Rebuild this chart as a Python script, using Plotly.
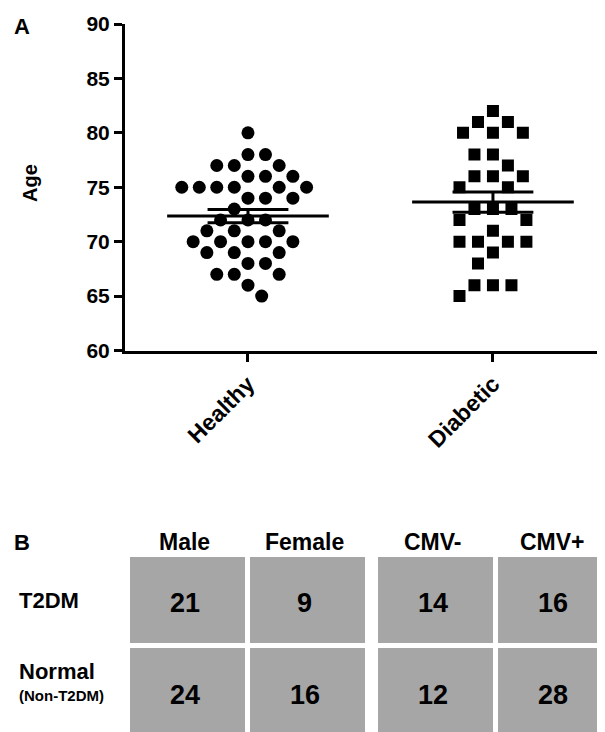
import numpy as np
import plotly.graph_objects as go

# ---------------- data ----------------
groups = ["Healthy", "Diabetic"]
healthy_ages = [80, 78, 78, 77, 77, 77, 76, 76, 76,
                75, 75, 75, 75, 75, 75, 74, 74, 74, 73,
                72, 72, 72, 71, 71, 71, 70, 70, 70, 70, 70,
                69, 69, 69, 68, 68, 67, 67, 67, 66, 65]
diabetic_ages = [82, 81, 81, 80, 80, 80, 78, 78, 77, 76, 76, 76,
                 75, 75, 73, 73, 73, 72, 72, 71, 70, 70, 70, 70,
                 69, 68, 66, 66, 66, 65]
y_ticks = [60, 65, 70, 75, 80, 85, 90]

row_labels = ["T2DM", "Normal"]
row_sublabels = ["", "(Non-T2DM)"]
col_labels = ["Male", "Female", "CMV-", "CMV+"]
counts = [[21, 9, 14, 16],
          [24, 16, 12, 28]]

# ---------------- layout constants ----------------
OFF = 8                      # page body margin
W, H = 605 - OFF, 732 - OFF  # figure size
PLOT_L, PLOT_R, PLOT_T, PLOT_B = 125, 600, 24, 350.5   # screen px
X_RANGE = [-0.502, 1.437]
Y_RANGE = [60, 90]
PX_PER_X = (PLOT_R - PLOT_L) / (X_RANGE[1] - X_RANGE[0])
PX_PER_Y = (PLOT_B - PLOT_T) / (Y_RANGE[1] - Y_RANGE[0])
FONT = "Liberation Sans, Arial, Helvetica, sans-serif"


def px(x):
    return (x - OFF) / W


def py(y):
    return 1 - (y - OFF) / H


def swarm(values, d):
    """Greedy beeswarm: horizontal offsets (data units) so markers don't collide."""
    placed = []
    offsets = []
    side = 1
    for v in values:
        y = v * PX_PER_Y
        forb = []
        for xp, yp in placed:
            dy = abs(y - yp)
            if dy < d:
                w = (d * d - dy * dy) ** 0.5
                forb.append((xp - w, xp + w))
        cands = [0.0] + [a for a, b in forb] + [b for a, b in forb]
        valid = [c for c in cands
                 if all(not (a + 1e-7 < c < b - 1e-7) for a, b in forb)]
        mn = min(abs(c) for c in valid)
        ties = [c for c in valid if abs(abs(c) - mn) < 1e-6]
        if len(ties) > 1:
            best = max(ties, key=lambda c: side * c)
            side = -side
        else:
            best = ties[0]
        placed.append((best, y))
        offsets.append(best / PX_PER_X)
    return offsets


fig = go.Figure()

series = [(healthy_ages, "circle", 13, 17.5), (diabetic_ages, "square", 12, 18.5)]
for gi, (vals, sym, msize, dist) in enumerate(series):
    offs = swarm(vals, dist)
    fig.add_trace(go.Scatter(
        x=[gi + o for o in offs], y=vals, mode="markers",
        marker=dict(symbol=sym, size=msize, color="black", line=dict(width=0)),
        hoverinfo="y", showlegend=False))

for gi, vals in enumerate([healthy_ages, diabetic_ages]):
    arr = np.array(vals, dtype=float)
    m = arr.mean()
    sem = arr.std(ddof=1) / np.sqrt(len(arr))
    line = dict(color="black", width=3)
    fig.add_trace(go.Scatter(x=[gi - 0.33, gi + 0.33], y=[m, m], mode="lines",
                             line=line, showlegend=False, hoverinfo="skip"))
    for yy in (m - sem, m + sem):
        fig.add_trace(go.Scatter(x=[gi - 0.165, gi + 0.165], y=[yy, yy], mode="lines",
                                 line=line, showlegend=False, hoverinfo="skip"))
    fig.add_trace(go.Scatter(x=[gi, gi], y=[m - sem, m + sem], mode="lines",
                             line=line, showlegend=False, hoverinfo="skip"))

axis_common = dict(showline=True, linecolor="black", linewidth=3, ticks="outside",
                   ticklen=8, tickwidth=3, tickcolor="black", showgrid=False,
                   zeroline=False, automargin=False)

fig.update_layout(
    width=W, height=H,
    margin=dict(l=0, r=0, t=0, b=0),
    plot_bgcolor="white", paper_bgcolor="white",
    showlegend=False,
    font=dict(family=FONT, color="black"),
    xaxis=dict(domain=[px(PLOT_L), px(PLOT_R)], range=X_RANGE,
               tickvals=[0, 1], ticktext=groups, tickangle=-45,
               tickfont=dict(size=23, weight="bold", family=FONT, color="black"),
               **axis_common),
    yaxis=dict(domain=[py(PLOT_B), py(PLOT_T)], range=Y_RANGE,
               tickvals=y_ticks, ticktext=[str(t) for t in y_ticks],
               tickfont=dict(size=21, weight="bold", family=FONT, color="black"),
               **axis_common),
)

annotations = []


def ann(text, x, y, size, xanchor="center", angle=0):
    annotations.append(dict(text=text, x=px(x), y=py(y), xref="paper", yref="paper",
                            xanchor=xanchor, yanchor="middle", showarrow=False,
                            textangle=angle,
                            font=dict(size=size, family=FONT, color="black", weight="bold")))


ann("A", 21.5, 27, 22)
ann("B", 21.5, 542, 22)
ann("Age", 30, 183, 20, angle=-90)

# ---------------- panel B table ----------------
col_x0 = [130, 250, 378, 498]
col_w = 115
row_y0 = [557, 648]
row_h = [86, 92]
cell_color = "#a6a6a6"
shapes = []
for ri, row in enumerate(counts):
    for ci, val in enumerate(row):
        x0, x1 = col_x0[ci], col_x0[ci] + col_w
        y0, y1 = row_y0[ri], row_y0[ri] + row_h[ri]
        shapes.append(dict(type="rect", xref="paper", yref="paper",
                           x0=px(x0), x1=px(x1), y0=py(y1), y1=py(y0),
                           fillcolor=cell_color, line=dict(width=0), layer="below"))
        ann(str(val), (x0 + x1) / 2 - 3, 603 if ri == 0 else 695, 27)

for ci, lab in enumerate(col_labels):
    ann(lab, col_x0[ci] + col_w / 2 - 3, 542, 23)

ann(row_labels[0], 17, 600, 22, xanchor="left")
ann(row_labels[1], 17, 671, 22, xanchor="left")
ann(row_sublabels[1], 17, 695, 15, xanchor="left")

fig.update_layout(annotations=annotations, shapes=shapes)
fig.write_html("out.html")
